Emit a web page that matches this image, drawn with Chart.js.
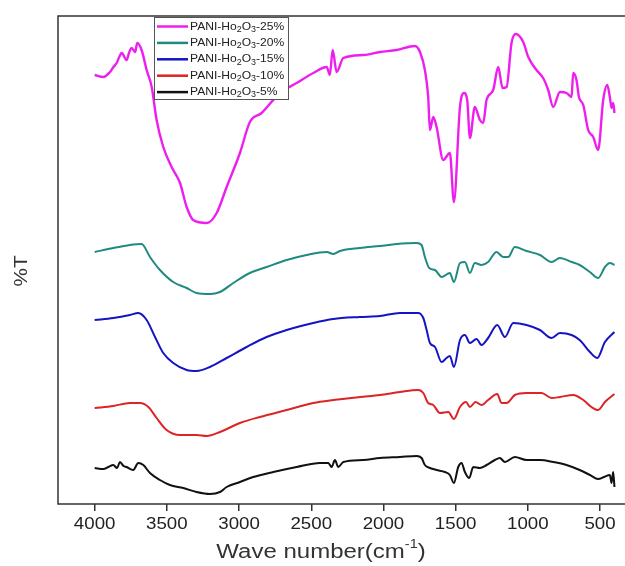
<!DOCTYPE html>
<html>
<head>
<meta charset="utf-8">
<script src="https://cdn.jsdelivr.net/npm/chart.js@4/dist/chart.umd.min.js"></script>
<style>
  html, body { margin: 0; padding: 0; background: #fff; overflow: hidden; }
  #wrap { width: 625px; height: 566px; }
</style>
</head>
<body>
<div id="wrap"><canvas id="ftir" width="625" height="566"></canvas></div>
<script>
// FTIR spectra, %T in arbitrary offset units
const seriesNames = ['25%', '20%', '15%', '10%', '5%'];
const xTicks = [4000, 3500, 3000, 2500, 2000, 1500, 1000, 500];

const wn25 = [4000, 3940, 3894, 3870, 3848, 3830, 3813, 3779, 3760, 3744, 3720, 3705, 3675, 3640, 3605, 3571, 3525, 3467, 3409, 3363, 3317, 3224, 3155, 3086, 2994, 2925, 2844, 2717, 2601, 2486, 2393, 2371, 2352, 2324, 2278, 2140, 2024, 1909, 1782, 1747, 1713, 1690, 1678, 1655, 1632, 1586, 1540, 1512, 1470, 1442, 1420, 1401, 1367, 1332, 1309, 1286, 1240, 1205, 1175, 1147, 1113, 1083, 1032, 997, 940, 894, 859, 824, 778, 732, 697, 686, 663, 646, 616, 582, 547, 513, 478, 450, 432, 420, 409, 400];
const t25 = [429, 427, 432, 437, 441, 447, 451, 444, 452, 456, 452, 461, 454, 434, 417, 384, 357, 337, 321, 297, 284, 281, 291, 317, 351, 382, 391, 411, 421, 431, 437, 429, 454, 432, 446, 449, 452, 454, 458, 452, 434, 407, 374, 387, 377, 344, 351, 302, 397, 411, 404, 366, 397, 384, 381, 404, 414, 437, 416, 417, 461, 470, 462, 447, 434, 426, 414, 397, 412, 411, 407, 431, 424, 407, 399, 374, 367, 354, 404, 419, 407, 396, 401, 391];

const wn20 = [4000, 3871, 3756, 3675, 3617, 3548, 3456, 3363, 3294, 3202, 3132, 3040, 2925, 2809, 2670, 2532, 2393, 2347, 2301, 2163, 2024, 1909, 1770, 1736, 1713, 1683, 1643, 1597, 1540, 1512, 1470, 1436, 1401, 1367, 1321, 1275, 1217, 1171, 1136, 1090, 1009, 916, 835, 778, 697, 641, 570, 513, 466, 432, 400];
const t20 = [252, 256, 259, 260, 247, 234, 222, 216, 211, 210, 212, 221, 231, 237, 244, 249, 252, 250, 253, 256, 258, 260, 261, 259, 247, 236, 234, 227, 231, 222, 241, 242, 231, 241, 239, 242, 252, 247, 247, 257, 253, 249, 242, 246, 242, 239, 232, 226, 237, 241, 239];

const wn15 = [4000, 3871, 3756, 3698, 3640, 3582, 3525, 3456, 3363, 3294, 3202, 3086, 2948, 2809, 2670, 2486, 2347, 2163, 2024, 1886, 1759, 1724, 1701, 1678, 1643, 1597, 1563, 1540, 1512, 1470, 1436, 1401, 1355, 1321, 1275, 1212, 1159, 1101, 1009, 916, 835, 778, 697, 641, 570, 519, 466, 400];
const t15 = [184, 186, 189, 191, 184, 167, 151, 141, 134, 133, 137, 146, 157, 167, 174, 181, 185, 187, 188, 191, 191, 186, 174, 161, 157, 142, 146, 148, 137, 164, 169, 161, 165, 159, 166, 179, 167, 181, 179, 174, 166, 171, 169, 164, 152, 146, 162, 172];

const wn10 = [4000, 3871, 3756, 3686, 3628, 3571, 3502, 3409, 3294, 3224, 3132, 2994, 2856, 2670, 2486, 2347, 2163, 2024, 1886, 1759, 1724, 1690, 1655, 1609, 1551, 1512, 1470, 1428, 1401, 1362, 1321, 1275, 1212, 1182, 1147, 1090, 1009, 905, 835, 778, 686, 616, 559, 513, 466, 400];
const t10 = [96, 98, 101, 101, 97, 86, 74, 69, 69, 68, 72, 81, 87, 94, 101, 104, 107, 109, 112, 114, 111, 101, 99, 91, 92, 85, 97, 102, 97, 102, 99, 104, 110, 101, 101, 109, 111, 111, 106, 107, 109, 104, 97, 94, 102, 110];

const wn5 = [4000, 3940, 3905, 3871, 3845, 3825, 3800, 3779, 3733, 3698, 3663, 3617, 3548, 3479, 3386, 3294, 3202, 3132, 3086, 2994, 2902, 2763, 2601, 2440, 2382, 2359, 2336, 2313, 2278, 2140, 2024, 1886, 1770, 1736, 1713, 1678, 1632, 1574, 1540, 1512, 1482, 1459, 1436, 1406, 1378, 1332, 1286, 1228, 1194, 1159, 1090, 1009, 916, 824, 732, 641, 570, 513, 472, 432, 420, 409, 400];
const t5 = [36, 35, 37, 39, 36, 42, 38, 37, 34, 41, 39, 31, 24, 19, 16, 12, 10, 12, 17, 22, 27, 32, 37, 41, 41, 37, 44, 37, 42, 44, 46, 47, 48, 46, 39, 36, 34, 32, 29, 21, 37, 41, 32, 26, 37, 36, 39, 44, 46, 42, 47, 44, 44, 42, 39, 34, 29, 25, 27, 29, 21, 32, 17];

const colors = ['#ee1fee', '#1f8a80', '#1414c4', '#dc2424', '#111111'];
const FONT = '"Liberation Sans", Arial, sans-serif';

function pts(xs, ys) {
    return xs.map((x, i) => ({ x: x, y: ys[i] }));
}

const allX = [wn25, wn20, wn15, wn10, wn5];
const allY = [t25, t20, t15, t10, t5];

const datasets = seriesNames.map((name, i) => ({
    label: name,
    data: pts(allX[i], allY[i]),
    borderColor: colors[i],
    borderWidth: i === 0 ? 2.4 : 2,
    pointRadius: 0,
    cubicInterpolationMode: 'monotone',
    borderJoinStyle: 'round',
    fill: false
}));

// text drawn a bit wider than normal, like the source image
function stretchText(ctx, text, x, y, sx, align) {
    ctx.save();
    ctx.translate(x, y);
    ctx.scale(sx, 1);
    ctx.textAlign = align;
    ctx.fillText(text, 0, 0);
    ctx.restore();
}

const framePlugin = {
    id: 'frame',
    afterDraw(chart) {
        const { ctx, chartArea: a } = chart;
        const xs = chart.scales.x;
        ctx.save();

        // axes frame (right side is cut off in the source)
        ctx.strokeStyle = '#333';
        ctx.lineWidth = 1.5;
        ctx.beginPath();
        ctx.moveTo(chart.width, a.top);
        ctx.lineTo(a.left, a.top);
        ctx.lineTo(a.left, a.bottom);
        ctx.lineTo(chart.width, a.bottom);
        ctx.stroke();

        // x tick labels
        ctx.fillStyle = '#222';
        ctx.font = '17px ' + FONT;
        ctx.textBaseline = 'middle';
        xTicks.forEach(v => {
            stretchText(ctx, String(v), xs.getPixelForValue(v), a.bottom + 20, 1.1, 'center');
        });

        // legend box
        const lx = a.left + 96, ly = a.top + 1, lw = 134, lh = 82;
        ctx.fillStyle = '#fff';
        ctx.fillRect(lx, ly, lw, lh);
        ctx.strokeStyle = '#555';
        ctx.lineWidth = 1;
        ctx.strokeRect(lx + 0.5, ly + 0.5, lw, lh);
        chart.data.datasets.forEach((ds, i) => {
            const y = ly + 9.5 + i * 16.4;
            ctx.strokeStyle = ds.borderColor;
            ctx.lineWidth = 2.5;
            ctx.beginPath();
            ctx.moveTo(lx + 3, y);
            ctx.lineTo(lx + 34, y);
            ctx.stroke();
            ctx.fillStyle = '#222';
            ctx.textBaseline = 'middle';
            ctx.save();
            ctx.translate(lx + 36, y);
            ctx.scale(1.05, 1);
            ctx.textAlign = 'left';
            let cx = 0;
            [['PANI-Ho', 0], ['2', 1], ['O', 0], ['3', 1], ['-' + ds.label, 0]].forEach(p => {
                ctx.font = (p[1] ? 8.5 : 11.5) + 'px ' + FONT;
                ctx.fillText(p[0], cx, p[1] ? 3 : 0);
                cx += ctx.measureText(p[0]).width;
            });
            ctx.restore();
        });

        // y title
        ctx.fillStyle = '#333';
        ctx.save();
        ctx.translate(22, 271);
        ctx.rotate(-Math.PI / 2);
        ctx.font = '18px ' + FONT;
        ctx.textBaseline = 'middle';
        stretchText(ctx, '%T', 0, 0, 1.15, 'center');
        ctx.restore();

        // x title with superscript
        const size = 20, sx = 1.2;
        ctx.save();
        ctx.textAlign = 'left';
        ctx.textBaseline = 'middle';
        ctx.font = size + 'px ' + FONT;
        const w1 = ctx.measureText('Wave number(cm').width;
        ctx.font = Math.round(size * 0.62) + 'px ' + FONT;
        const w2 = ctx.measureText('-1').width;
        ctx.font = size + 'px ' + FONT;
        const w3 = ctx.measureText(')').width;
        ctx.translate(321 - (w1 + w2 + w3) * sx / 2, 552);
        ctx.scale(sx, 1);
        ctx.fillText('Wave number(cm', 0, 0);
        ctx.font = Math.round(size * 0.62) + 'px ' + FONT;
        ctx.fillText('-1', w1, -7);
        ctx.font = size + 'px ' + FONT;
        ctx.fillText(')', w1 + w2, 0);
        ctx.restore();

        ctx.restore();
    }
};

new Chart(document.getElementById('ftir').getContext('2d'), {
    type: 'line',
    data: { datasets: datasets },
    options: {
        responsive: false,
        animation: false,
        layout: { padding: { left: 58, top: 16, right: 0, bottom: 0 } },
        plugins: {
            legend: { display: false },
            tooltip: { enabled: false }
        },
        scales: {
            x: {
                type: 'linear',
                reverse: true,
                min: 327,
                max: 4254,
                afterBuildTicks: s => { s.ticks = xTicks.map(v => ({ value: v })); },
                afterFit: s => { s.height = 62; },
                grid: {
                    drawOnChartArea: false,
                    drawTicks: true,
                    tickLength: 7,
                    color: '#333',
                    lineWidth: 1.5
                },
                border: { display: false },
                ticks: { display: false }
            },
            y: {
                display: false,
                min: 0,
                max: 488
            }
        }
    },
    plugins: [framePlugin]
});
</script>
</body>
</html>
